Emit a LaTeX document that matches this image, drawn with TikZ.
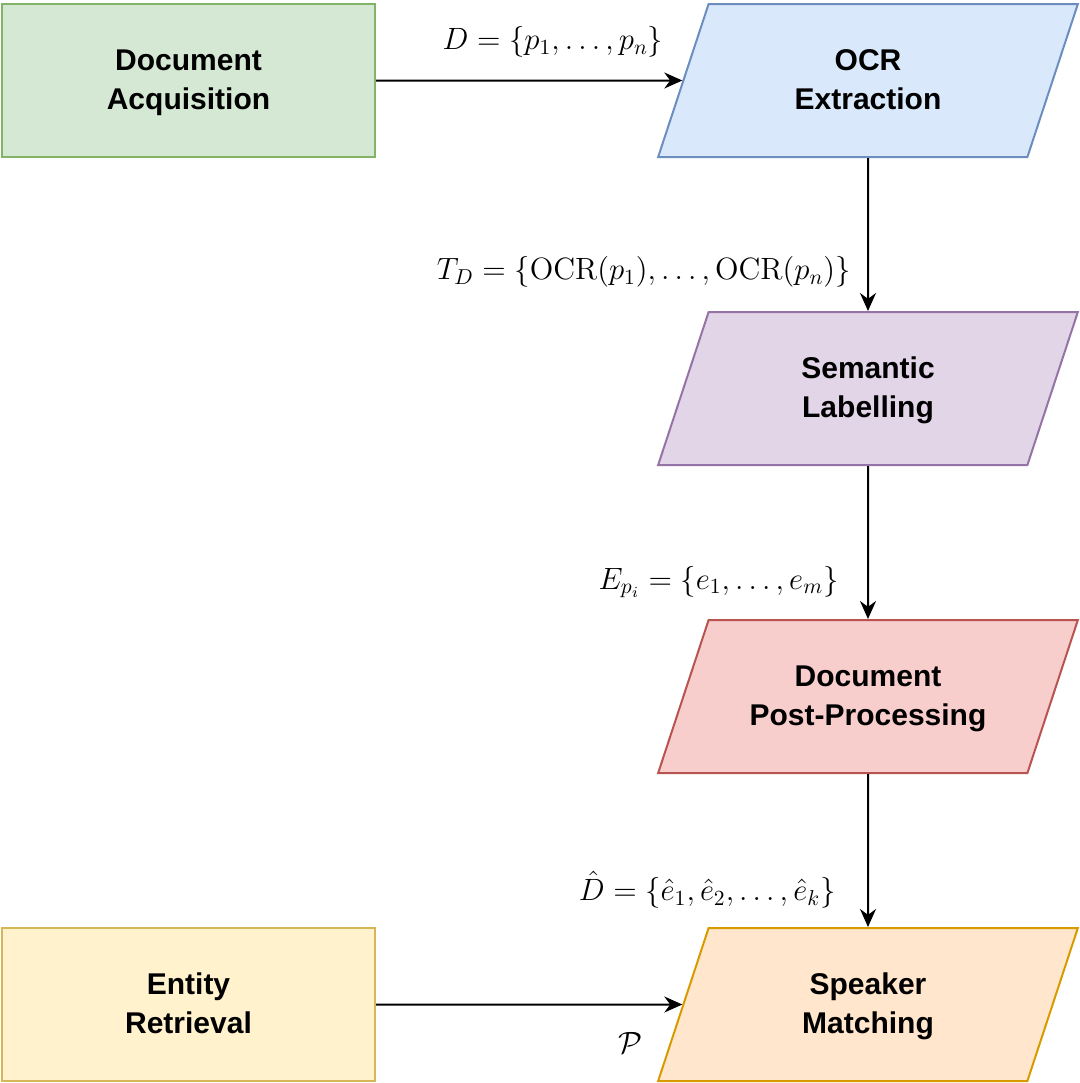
\RequirePackage{fix-cm}
\documentclass[tikz,border=0pt]{standalone}
\usepackage[no-math]{fontspec}
\setmainfont{Liberation Sans}
\usetikzlibrary{arrows.meta,shapes.geometric,positioning}
\definecolor{acqfill}{HTML}{D5E8D4}
\definecolor{acqline}{HTML}{82B366}
\definecolor{ocrfill}{HTML}{DAE8FC}
\definecolor{ocrline}{HTML}{6C8EBF}
\definecolor{semfill}{HTML}{E1D5E7}
\definecolor{semline}{HTML}{9673A6}
\definecolor{postfill}{HTML}{F8CECC}
\definecolor{postline}{HTML}{B85450}
\definecolor{entfill}{HTML}{FFF2CC}
\definecolor{entline}{HTML}{D6B656}
\definecolor{spkfill}{HTML}{FFE6CC}
\definecolor{spkline}{HTML}{D79B00}
\tikzset{
	stepbox/.style={draw, line width=1pt, minimum width=186.5pt, minimum height=76.5pt, align=center, text width=130pt, text height=12pt, text depth=22pt, font=\fontsize{15}{19.5}\selectfont\bfseries},
	slantbox/.style={stepbox, trapezium, trapezium left angle=62, trapezium right angle=118, trapezium stretches=true, minimum width=210pt},
	flow/.style={-{Stealth[length=9pt,width=8pt]}, line width=1pt},
	formula/.style={font=\fontsize{15.4}{19}\selectfont, inner sep=0pt}
}

\begin{document}
\begin{tikzpicture}[x=0.5pt,y=-0.5pt]
	\useasboundingbox (0,0) rectangle (1080,1083);
	\node at (188.5,80.5)[stepbox, fill=acqfill, draw=acqline] (acq) {Document\\Acquisition};
	\node at (868,80.5)[slantbox, fill=ocrfill, draw=ocrline] (ocr) {OCR\\Extraction};
	\node at (868,388.5)[slantbox, fill=semfill, draw=semline] (sem) {Semantic\\Labelling};
	\node at (868,696.5)[slantbox, fill=postfill, draw=postline] (post) {Document\\Post-Processing};
	\node at (188.5,1004.5)[stepbox, fill=entfill, draw=entline] (ent) {Entity\\Retrieval};
	\node at (868,1004.5)[slantbox, fill=spkfill, draw=spkline] (spk) {Speaker\\Matching};
	\node at (553,42)[formula] (dlab) {$D=\{p_1,\ldots,p_n\}$};
	\node at (851,272)[formula, anchor=east] (tlab) {$T_D=\{\mathrm{OCR}(p_1),\ldots,\mathrm{OCR}(p_n)\}$};
	\node at (839,582)[formula, anchor=east] (elab) {$E_{p_i}=\{e_1,\ldots,e_m\}$};
	\node at (836,890)[formula, anchor=east] (hlab) {$\hat{D}=\{\hat{e}_1,\hat{e}_2,\ldots,\hat{e}_k\}$};
	\node at (630,1043)[formula] (plab) {$\mathcal{P}$};
	\draw[flow] (acq)--(ocr);
	\draw[flow] (ocr)--(sem);
	\draw[flow] (sem)--(post);
	\draw[flow] (post)--(spk);
	\draw[flow] (ent)--(spk);
\end{tikzpicture}
\end{document}
